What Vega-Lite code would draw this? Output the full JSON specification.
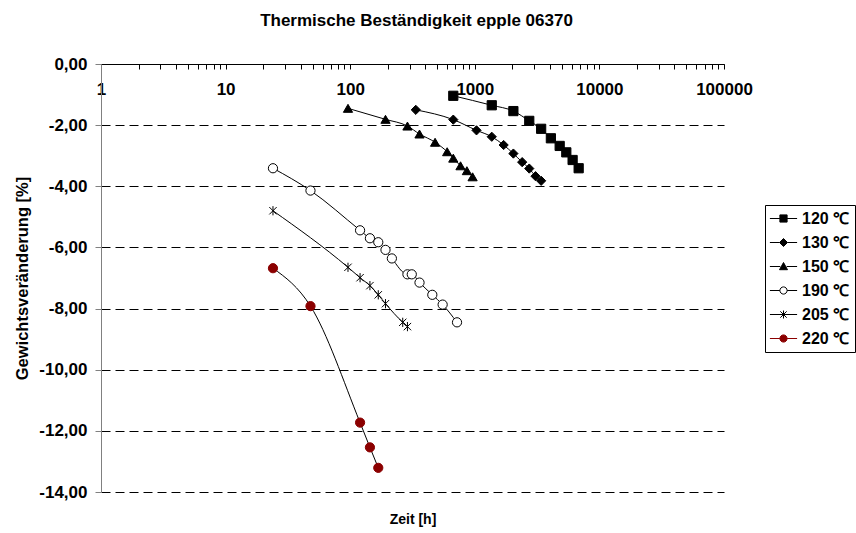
{
  "$schema": "https://vega.github.io/schema/vega-lite/v6.json",
  "width": 623,
  "height": 428,
  "autosize": "none",
  "padding": {"left": 101, "top": 64, "right": 132, "bottom": 41},
  "background": "white",
  "config": {"view": {"stroke": null}, "font": "Liberation Sans"},
  "title": {"text": "Thermische Beständigkeit epple 06370", "font": "Liberation Sans", "fontSize": 17, "fontWeight": "bold", "color": "black", "anchor": "middle", "frame": "group", "dx": 4, "offset": 25},
  "data": {"values": [
    {"series": "120 ℃", "t": 672, "v": -1.04},
    {"series": "120 ℃", "t": 1368, "v": -1.35},
    {"series": "120 ℃", "t": 2040, "v": -1.54},
    {"series": "120 ℃", "t": 2736, "v": -1.86},
    {"series": "120 ℃", "t": 3408, "v": -2.12},
    {"series": "120 ℃", "t": 4080, "v": -2.43},
    {"series": "120 ℃", "t": 4800, "v": -2.68},
    {"series": "120 ℃", "t": 5424, "v": -2.89},
    {"series": "120 ℃", "t": 6096, "v": -3.14},
    {"series": "120 ℃", "t": 6816, "v": -3.41},
    {"series": "130 ℃", "t": 336, "v": -1.50},
    {"series": "130 ℃", "t": 672, "v": -1.82},
    {"series": "130 ℃", "t": 1032, "v": -2.17},
    {"series": "130 ℃", "t": 1368, "v": -2.38},
    {"series": "130 ℃", "t": 1704, "v": -2.65},
    {"series": "130 ℃", "t": 2040, "v": -2.93},
    {"series": "130 ℃", "t": 2400, "v": -3.21},
    {"series": "130 ℃", "t": 2736, "v": -3.42},
    {"series": "130 ℃", "t": 3072, "v": -3.67},
    {"series": "130 ℃", "t": 3408, "v": -3.82},
    {"series": "150 ℃", "t": 96, "v": -1.45},
    {"series": "150 ℃", "t": 192, "v": -1.81},
    {"series": "150 ℃", "t": 288, "v": -2.03},
    {"series": "150 ℃", "t": 360, "v": -2.29},
    {"series": "150 ℃", "t": 480, "v": -2.56},
    {"series": "150 ℃", "t": 600, "v": -2.87},
    {"series": "150 ℃", "t": 672, "v": -3.08},
    {"series": "150 ℃", "t": 768, "v": -3.33},
    {"series": "150 ℃", "t": 864, "v": -3.49},
    {"series": "150 ℃", "t": 960, "v": -3.69},
    {"series": "190 ℃", "t": 24, "v": -3.41},
    {"series": "190 ℃", "t": 48, "v": -4.14},
    {"series": "190 ℃", "t": 120, "v": -5.44},
    {"series": "190 ℃", "t": 144, "v": -5.70},
    {"series": "190 ℃", "t": 168, "v": -5.83},
    {"series": "190 ℃", "t": 192, "v": -6.08},
    {"series": "190 ℃", "t": 216, "v": -6.36},
    {"series": "190 ℃", "t": 288, "v": -6.88},
    {"series": "190 ℃", "t": 312, "v": -6.88},
    {"series": "190 ℃", "t": 360, "v": -7.15},
    {"series": "190 ℃", "t": 456, "v": -7.55},
    {"series": "190 ℃", "t": 552, "v": -7.87},
    {"series": "190 ℃", "t": 720, "v": -8.45},
    {"series": "205 ℃", "t": 24, "v": -4.80},
    {"series": "205 ℃", "t": 96, "v": -6.65},
    {"series": "205 ℃", "t": 120, "v": -6.99},
    {"series": "205 ℃", "t": 144, "v": -7.25},
    {"series": "205 ℃", "t": 168, "v": -7.55},
    {"series": "205 ℃", "t": 192, "v": -7.84},
    {"series": "205 ℃", "t": 264, "v": -8.45},
    {"series": "205 ℃", "t": 288, "v": -8.59},
    {"series": "220 ℃", "t": 24, "v": -6.68},
    {"series": "220 ℃", "t": 48, "v": -7.92},
    {"series": "220 ℃", "t": 120, "v": -11.73},
    {"series": "220 ℃", "t": 144, "v": -12.54},
    {"series": "220 ℃", "t": 168, "v": -13.21}
  ]},
  "layer": [
    {
      "mark": {"type": "line", "interpolate": "monotone", "color": "black", "strokeWidth": 1},
      "encoding": {
        "x": {"field": "t", "type": "quantitative", "scale": {"type": "log", "domain": [1, 100000], "nice": false},
          "axis": {"orient": "bottom", "title": "Zeit [h]", "labels": false, "ticks": false, "domain": false, "grid": false, "titleFont": "Liberation Sans", "titleFontSize": 14, "titleFontWeight": "bold", "titleColor": "black", "titlePadding": 20}},
        "y": {"field": "v", "type": "quantitative", "scale": {"domain": [-14, 0], "nice": false},
          "axis": {"values": [-14, -12, -10, -8, -6, -4, -2, 0], "labelExpr": "replace(replace(format(datum.value, '.2f'), '.', ','), '−', '-')", "labelFont": "Liberation Sans", "labelFontSize": 17, "labelFontWeight": "bold", "labelColor": "black", "labelPadding": 8, "tickSize": 6, "tickColor": "#808080", "domainColor": "#808080", "grid": true, "gridColor": "black", "gridDash": [9, 5], "gridWidth": 1, "title": "Gewichtsveränderung [%]", "titleFont": "Liberation Sans", "titleFontSize": 16.5, "titleFontWeight": "bold", "titleColor": "black", "titlePadding": 8}},
        "detail": {"field": "series"}
      }
    },
    {
      "mark": {"type": "point", "filled": true, "size": 85, "strokeWidth": 1, "opacity": 1},
      "encoding": {
        "x": {"field": "t", "type": "quantitative", "scale": {"type": "log", "domain": [1, 100000], "nice": false},
          "axis": {"orient": "top", "title": null, "values": [1,2,3,4,5,6,7,8,9,10,20,30,40,50,60,70,80,90,100,200,300,400,500,600,700,800,900,1000,2000,3000,4000,5000,6000,7000,8000,9000,10000,20000,30000,40000,50000,60000,70000,80000,90000,100000],
            "labelExpr": "indexof([1,10,100,1000,10000,100000], datum.value) >= 0 ? format(datum.value, 'd') : ''",
            "tickSize": -5, "labelPadding": -20, "labelBaseline": "middle", "labelFont": "Liberation Sans", "labelFontSize": 17, "labelFontWeight": "bold", "labelColor": "black", "labelOverlap": false, "labelFlush": false, "labelBound": false, "domainColor": "black", "tickColor": "black", "grid": false}},
        "y": {"field": "v", "type": "quantitative", "scale": {"domain": [-14, 0], "nice": false},
          "axis": {"values": [-14, -12, -10, -8, -6, -4, -2, 0], "labelExpr": "replace(replace(format(datum.value, '.2f'), '.', ','), '−', '-')", "labelFont": "Liberation Sans", "labelFontSize": 17, "labelFontWeight": "bold", "labelColor": "black", "labelPadding": 8, "tickSize": 6, "tickColor": "#808080", "domainColor": "#808080", "grid": true, "gridColor": "black", "gridDash": [9, 5], "gridWidth": 1, "title": "Gewichtsveränderung [%]", "titleFont": "Liberation Sans", "titleFontSize": 16.5, "titleFontWeight": "bold", "titleColor": "black", "titlePadding": 8}},
        "shape": {"field": "series", "type": "nominal", "legend": null, "scale": {"range": ["square", "diamond", "triangle-up", "circle", "M-0.8,-0.8L0.8,0.8M-0.8,0.8L0.8,-0.8M0,-1L0,1", "circle"]}},
        "fill": {"field": "series", "type": "nominal", "legend": null, "scale": {"range": ["black", "black", "black", "white", "black", "#8B0000"]}},
        "stroke": {"field": "series", "type": "nominal", "legend": null, "scale": {"range": ["black", "black", "black", "black", "black", "#8B0000"]}}
      }
    },
    {
      "mark": {"type": "point", "filled": true, "size": 256, "strokeWidth": 1, "opacity": 0},
      "encoding": {
        "x": {"field": "t", "type": "quantitative", "scale": {"type": "log", "domain": [1, 100000], "nice": false}, "axis": null},
        "y": {"field": "v", "type": "quantitative", "scale": {"domain": [-14, 0], "nice": false},
          "axis": {"values": [-14, -12, -10, -8, -6, -4, -2, 0], "labelExpr": "replace(replace(format(datum.value, '.2f'), '.', ','), '−', '-')", "labelFont": "Liberation Sans", "labelFontSize": 17, "labelFontWeight": "bold", "labelColor": "black", "labelPadding": 8, "tickSize": 6, "tickColor": "#808080", "domainColor": "#808080", "grid": true, "gridColor": "black", "gridDash": [9, 5], "gridWidth": 1, "title": "Gewichtsveränderung [%]", "titleFont": "Liberation Sans", "titleFontSize": 16.5, "titleFontWeight": "bold", "titleColor": "black", "titlePadding": 8}},
        "shape": {"field": "series", "type": "nominal",
          "scale": {"range": [
            "M-1.7,0H-0.45M0.45,0H1.7M-0.45,-0.45H0.45V0.45H-0.45Z",
            "M-1.7,0H-0.5M0.5,0H1.7M0,-0.5L0.5,0L0,0.5L-0.5,0Z",
            "M-1.7,0H-0.4M0.4,0H1.7M0,-0.5L0.5,0.4L-0.5,0.4Z",
            "M-1.7,0H-0.45M0.45,0H1.7M-0.45,0A0.45,0.45 0 1,0 0.45,0A0.45,0.45 0 1,0 -0.45,0Z",
            "M-1.7,0H1.7M-0.4,-0.4L0.4,0.4M-0.4,0.4L0.4,-0.4M0,-0.5V0.5",
            "M-1.7,0H-0.45M0.45,0H1.7M-0.45,0A0.45,0.45 0 1,0 0.45,0A0.45,0.45 0 1,0 -0.45,0Z"]},
          "legend": {"title": null, "orient": "none", "legendX": 664, "legendY": 141, "strokeColor": "black", "fillColor": "white", "padding": 5, "symbolOffset": 5, "labelOffset": 10, "rowPadding": 7, "symbolSize": 256, "symbolOpacity": 1, "symbolStrokeWidth": 1, "labelFont": "Liberation Sans", "labelFontSize": 16, "labelFontWeight": "bold", "labelColor": "black"}},
        "fill": {"field": "series", "type": "nominal", "scale": {"range": ["black", "black", "black", "white", "black", "#8B0000"]},
          "legend": {"title": null, "orient": "none", "legendX": 664, "legendY": 141, "strokeColor": "black", "fillColor": "white", "padding": 5, "symbolOffset": 5, "labelOffset": 10, "rowPadding": 7, "symbolSize": 256, "symbolOpacity": 1, "symbolStrokeWidth": 1, "labelFont": "Liberation Sans", "labelFontSize": 16, "labelFontWeight": "bold", "labelColor": "black"}},
        "stroke": {"field": "series", "type": "nominal", "scale": {"range": ["black", "black", "black", "black", "black", "#8B0000"]},
          "legend": {"title": null, "orient": "none", "legendX": 664, "legendY": 141, "strokeColor": "black", "fillColor": "white", "padding": 5, "symbolOffset": 5, "labelOffset": 10, "rowPadding": 7, "symbolSize": 256, "symbolOpacity": 1, "symbolStrokeWidth": 1, "labelFont": "Liberation Sans", "labelFontSize": 16, "labelFontWeight": "bold", "labelColor": "black"}}
      }
    }
  ],
  "resolve": {"axis": {"x": "independent"}, "scale": {"shape": "independent", "fill": "independent", "stroke": "independent"}}
}
